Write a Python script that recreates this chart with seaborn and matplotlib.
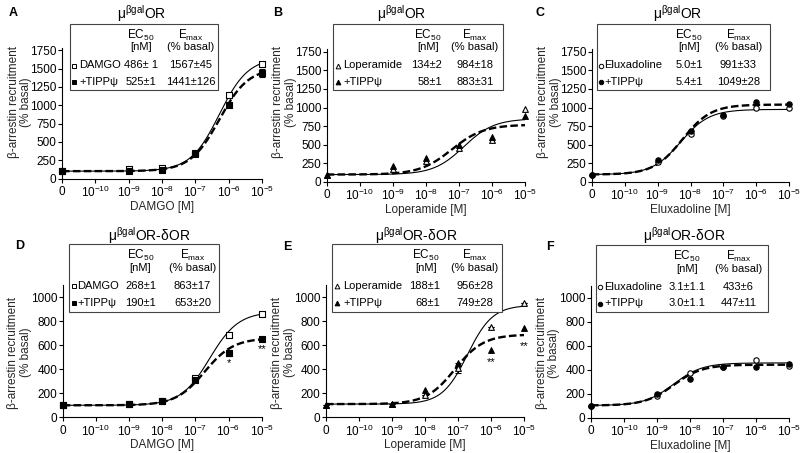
import numpy as np
import pandas as pd
import matplotlib
matplotlib.use("Agg")
import matplotlib.pyplot as plt
import seaborn as sns
from matplotlib.lines import Line2D
from matplotlib.patches import Rectangle

sns.set_theme(style="ticks")
plt.rcParams.update({
    "font.family": ["Liberation Sans", "DejaVu Sans"],
    "mathtext.fontset": "custom",
    "mathtext.rm": "Liberation Sans",
    "mathtext.it": "Liberation Sans:italic",
    "mathtext.bf": "Liberation Sans:bold",
    "axes.linewidth": 0.8,
    "xtick.major.width": 0.8,
    "ytick.major.width": 0.8,
    "xtick.major.size": 3,
    "ytick.major.size": 3,
    "xtick.major.pad": 1.5,
    "ytick.major.pad": 1.0,
    "xtick.color": "black",
    "ytick.color": "black",
    "axes.edgecolor": "black",
    "text.color": "black",
})

# ---------------- data ----------------
dose_log = [-11, -9, -8, -7, -6, -5]          # "0" concentration drawn at the 10^-11 slot
x_tick_pos = [-11, -10, -9, -8, -7, -6, -5]
x_tick_labels = ["0", "10^{-10}", "10^{-9}", "10^{-8}", "10^{-7}", "10^{-6}", "10^{-5}"]
y_ticks_top = [0, 250, 500, 750, 1000, 1250, 1500, 1750]
y_ticks_bottom = [0, 200, 400, 600, 800, 1000]

agonist_names = ["DAMGO", "Loperamide", "Eluxadoline", "DAMGO", "Loperamide", "Eluxadoline"]
tipp_name = "+TIPPψ"
panel_letters = ["A", "B", "C", "D", "E", "F"]
title_top = "μ$^{\\mathrm{βgal}}$OR"
title_bottom = "μ$^{\\mathrm{βgal}}$OR-δOR"

A_agonist = [100, 130, 140, 345, 1135, 1565]
A_tipp = [100, 100, 110, 335, 998, 1442]
A_tipp_err = [0, 0, 0, 0, 0, 55]
B_agonist = [100, 174, 285, 451, 562, 987]
B_tipp = [100, 214, 317, 495, 598, 884]
C_agonist = [100, 271, 645, 881, 1000, 990]
C_tipp = [100, 294, 681, 900, 1081, 1050]
D_agonist = [100, 115, 140, 330, 686, 864]
D_tipp = [100, 110, 140, 308, 539, 653]
D_tipp_err = [0, 0, 0, 0, 25, 0]
E_agonist = [100, 110, 185, 412, 750, 950]
E_agonist_err = [0, 0, 0, 40, 0, 0]
E_tipp = [100, 110, 230, 454, 561, 747]
F_agonist = [100, 181, 375, 420, 481, 431]
F_tipp = [100, 197, 322, 417, 417, 444]

# fitted curve parameters: bottom, top, logEC50, hill
A_fit = [(100, 1650, -6.28, 1.0), (100, 1510, -6.28, 1.0)]
B_fit = [(100, 850, -6.85, 0.95), (100, 770, -7.22, 0.9)]
C_fit = [(100, 975, -8.30, 1.0), (100, 1040, -8.25, 1.0)]
D_fit = [(100, 880, -6.57, 1.0), (100, 660, -6.72, 1.0)]
E_fit = [(110, 935, -6.72, 1.14), (110, 690, -7.10, 1.0)]
F_fit = [(100, 455, -8.50, 1.0), (100, 440, -8.50, 1.0)]

# legend table texts
A_ec50 = ["486± 1", "525±1"];   A_emax = ["1567±45", "1441±126"]
B_ec50 = ["134±2", "58±1"];     B_emax = ["984±18", "883±31"]
C_ec50 = ["5.0±1", "5.4±1"];    C_emax = ["991±33", "1049±28"]
D_ec50 = ["268±1", "190±1"];    D_emax = ["863±17", "653±20"]
E_ec50 = ["188±1", "68±1"];     E_emax = ["956±28", "749±28"]
F_ec50 = ["3.1±1.1", "3.0±1.1"]; F_emax = ["433±6", "447±11"]

D_stars = [(-6, 452, "*"), (-5, 572, "**")]
E_stars = [(-6, 458, "**"), (-5, 595, "**")]

# ---------------- layout (pixels) ----------------
W, H = 800, 453
fig = plt.figure(figsize=(W / 100, H / 100), dpi=100)


def fx(x):
    return x / W


def fy(y):
    return 1 - y / H


panels = [
    dict(ag=A_agonist, tp=A_tipp, ag_err=None, tp_err=A_tipp_err, fit=A_fit, marker="s",
         ec=A_ec50, em=A_emax, stars=[], ymax=1780, yt=y_ticks_top,
         x0=62, x1=262, ybot=178.5, ytop=178.5 - 1780 * 128.3 / 1750,
         box=(70, 218, 23.5, 89.5), mk=74, lab=79, ecx=141, echa="center", emx=191,
         letter=(13, 13), title=(142, 13.5)),
    dict(ag=B_agonist, tp=B_tipp, ag_err=None, tp_err=None, fit=B_fit, marker="^",
         ec=B_ec50, em=B_emax, stars=[], ymax=1780, yt=y_ticks_top,
         x0=326.7, x1=525, ybot=182, ytop=182 - 1780 * 130.3 / 1750,
         box=(333, 503, 23.5, 89.5), mk=337.5, lab=343, ecx=442, echa="right", emx=475,
         letter=(278, 13), title=(402, 13.5)),
    dict(ag=C_agonist, tp=C_tipp, ag_err=None, tp_err=None, fit=C_fit, marker="o",
         ec=C_ec50, em=C_emax, stars=[], ymax=1780, yt=y_ticks_top,
         x0=591.7, x1=789.3, ybot=182, ytop=182 - 1780 * 130.3 / 1750,
         box=(597, 770, 23.5, 89.5), mk=600.5, lab=604, ecx=689, echa="center", emx=738.5,
         letter=(540, 13), title=(678, 13.5)),
    dict(ag=D_agonist, tp=D_tipp, ag_err=None, tp_err=D_tipp_err, fit=D_fit, marker="s",
         ec=D_ec50, em=D_emax, stars=D_stars, ymax=1100, yt=y_ticks_bottom,
         x0=62.7, x1=261.7, ybot=417.3, ytop=417.3 - 1100 * 0.12,
         box=(69.3, 219, 244.3, 312.3), mk=73.5, lab=77.5, ecx=140.5, echa="center", emx=192.5,
         letter=(20, 246), title=(149, 236)),
    dict(ag=E_agonist, tp=E_tipp, ag_err=E_agonist_err, tp_err=None, fit=E_fit, marker="^",
         ec=E_ec50, em=E_emax, stars=E_stars, ymax=1100, yt=y_ticks_bottom,
         x0=326, x1=524.3, ybot=417.3, ytop=417.3 - 1100 * 0.12,
         box=(331.7, 501.7, 244.3, 312.3), mk=337, lab=343, ecx=440, echa="right", emx=475,
         letter=(287, 247), title=(416, 236)),
    dict(ag=F_agonist, tp=F_tipp, ag_err=None, tp_err=None, fit=F_fit, marker="o",
         ec=F_ec50, em=F_emax, stars=[], ymax=1100, yt=y_ticks_bottom,
         x0=591, x1=789, ybot=417.5, ytop=417.5 - 1100 * 0.12,
         box=(596, 768.3, 245, 312.3), mk=600, lab=604, ecx=687, echa="center", emx=738.5,
         letter=(550, 247), title=(684, 236)),
]

xline = np.linspace(-11, -5, 400)
FS_TICK = 8.5
FS_LEG = 8.0
msize = {"s": 20, "^": 17, "o": 15}
lmsize = {"s": 3.4, "^": 3.4, "o": 3.2}

for i, p in enumerate(panels):
    ax = fig.add_axes([fx(p["x0"]), fy(p["ybot"]), (p["x1"] - p["x0"]) / W,
                       (p["ybot"] - p["ytop"]) / H])
    ax.set_facecolor("none")

    # fitted curves
    for j, (bot, top, lec, hill) in enumerate(p["fit"]):
        yfit = bot + (top - bot) / (1 + 10 ** ((lec - xline) * hill))
        df = pd.DataFrame({"logx": xline, "resp": yfit})
        if j == 0:
            sns.lineplot(data=df, x="logx", y="resp", ax=ax, color="black", lw=0.8, zorder=2)
        else:
            sns.lineplot(data=df, x="logx", y="resp", ax=ax, color="black", lw=1.7,
                         linestyle=(0, (3.2, 1.4)), zorder=2)

    # error bars
    for vals, err in ((p["ag"], p["ag_err"]), (p["tp"], p["tp_err"])):
        if err is not None:
            ax.errorbar(dose_log, vals, yerr=err, fmt="none", ecolor="black",
                        elinewidth=0.8, capsize=2, capthick=0.8, zorder=3, clip_on=False)

    # data points
    df_pts = pd.DataFrame({"logx": dose_log, "ag": p["ag"], "tp": p["tp"]})
    sns.scatterplot(data=df_pts, x="logx", y="ag", ax=ax, marker=p["marker"],
                    s=msize[p["marker"]], color="white", edgecolor="black",
                    linewidth=0.8, zorder=4, clip_on=False)
    sns.scatterplot(data=df_pts, x="logx", y="tp", ax=ax, marker=p["marker"],
                    s=msize[p["marker"]], color="black", edgecolor="black",
                    linewidth=0.8, zorder=5, clip_on=False)

    for (sx, sy, st) in p["stars"]:
        ax.text(sx, sy, st, ha="center", va="center", fontsize=8)

    ax.set_xlim(-11, -5)
    ax.set_ylim(0, p["ymax"])
    ax.set_xticks(x_tick_pos)
    ax.set_xticklabels(["$%s$" % t for t in x_tick_labels], fontsize=FS_TICK)
    ax.set_yticks(p["yt"])
    ax.set_yticklabels([str(v) for v in p["yt"]], fontsize=FS_TICK)
    sns.despine(ax=ax)
    ax.set_xlabel(agonist_names[i] + " [M]", fontsize=FS_TICK, labelpad=0.5)
    ax.set_ylabel("β-arrestin recruitment\n(% basal)", fontsize=FS_TICK,
                  linespacing=1.1)
    if i < 3:
        ax.yaxis.set_label_coords(-29.5 / (p["x1"] - p["x0"]),
                                  (p["ybot"] - 102.5) / (p["ybot"] - p["ytop"]))
    else:
        ax.yaxis.set_label_coords(-30.5 / (p["x1"] - p["x0"]), 0.49)

    # panel letter and title
    fig.text(fx(p["letter"][0]), fy(p["letter"][1]), panel_letters[i], fontsize=9,
             fontweight="bold", ha="center", va="center")
    fig.text(fx(p["title"][0]), fy(p["title"][1]), title_top if i < 3 else title_bottom,
             fontsize=10, ha="center", va="center")

    # legend table
    bl, br, bt, bb = p["box"]
    fig.add_artist(Rectangle((fx(bl), fy(bb)), (br - bl) / W, (bb - bt) / H,
                             transform=fig.transFigure, facecolor="white",
                             edgecolor="#444444", linewidth=0.8, zorder=10))
    h1, h2, r1, r2 = bt + 11.5, bt + 23.5, bt + 42, bt + 58.5
    ech_x = p["ecx"] - (14 if p["echa"] == "right" else 0)
    fig.text(fx(ech_x), fy(h1), "EC$_{50}$", fontsize=FS_LEG + 0.5, ha="center", va="center", zorder=11)
    fig.text(fx(ech_x), fy(h2), "[nM]", fontsize=FS_LEG, ha="center", va="center", zorder=11)
    fig.text(fx(p["emx"]), fy(h1), "E$_{\\mathrm{max}}$", fontsize=FS_LEG + 0.5, ha="center",
             va="center", zorder=11)
    fig.text(fx(p["emx"]), fy(h2), "(% basal)", fontsize=FS_LEG, ha="center", va="center", zorder=11)
    for k, (ry, name, face) in enumerate(((r1, agonist_names[i], "white"), (r2, tipp_name, "black"))):
        fig.add_artist(Line2D([fx(p["mk"])], [fy(ry)], marker=p["marker"],
                              markersize=lmsize[p["marker"]], markerfacecolor=face,
                              markeredgecolor="black", markeredgewidth=0.7,
                              linestyle="none", transform=fig.transFigure, zorder=11))
        fig.text(fx(p["lab"]), fy(ry), name, fontsize=FS_LEG, ha="left", va="center", zorder=11)
        fig.text(fx(p["ecx"]), fy(ry), p["ec"][k], fontsize=FS_LEG, ha=p["echa"],
                 va="center", zorder=11)
        fig.text(fx(p["emx"]), fy(ry), p["em"][k], fontsize=FS_LEG, ha="center",
                 va="center", zorder=11)

fig.savefig("out.png", dpi=100, facecolor="white")
